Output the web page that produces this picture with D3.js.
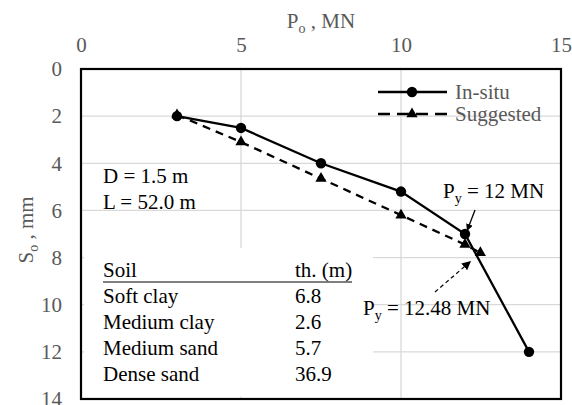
<!DOCTYPE html>
<html>
<head>
<meta charset="utf-8">
<script src="https://cdn.jsdelivr.net/npm/d3@7"></script>
<style>
  body { margin: 0; background: #fff; }
  svg text { font-family: "Liberation Serif", "Times New Roman", "DejaVu Serif", serif !important; }
</style>
</head>
<body>
<script>
// data
var xTicks = [0, 5, 10, 15];
var yTicks = [0, 2, 4, 6, 8, 10, 12, 14];
var insituP = [3, 5, 7.5, 10, 12, 14];
var insituS = [2, 2.5, 4, 5.2, 7, 12];
var suggP = [3, 5, 7.5, 10, 12, 12.48];
var suggS = [1.95, 3.1, 4.65, 6.2, 7.45, 7.8];
var soilNames = ["Soft clay", "Medium clay", "Medium sand", "Dense sand"];
var soilThick = ["6.8", "2.6", "5.7", "36.9"];

var FONT = "Liberation Serif, Times New Roman, DejaVu Serif, serif";

var margin = {top: 69, right: 11, bottom: 6, left: 81},
    width = 572 - margin.left - margin.right,
    height = 405 - margin.top - margin.bottom;

var svg = d3.select("body").append("svg")
    .attr("width", 572).attr("height", 405)
    .attr("font-family", FONT);

var defs = svg.append("defs");
defs.append("marker").attr("id", "ah")
    .attr("viewBox", "0 0 10 10").attr("refX", 10).attr("refY", 5)
    .attr("markerWidth", 7).attr("markerHeight", 7).attr("markerUnits", "userSpaceOnUse")
    .attr("orient", "auto")
  .append("path").attr("d", "M0,0L10,5L0,10z").attr("fill", "#000");
defs.append("marker").attr("id", "ah2")
    .attr("viewBox", "0 0 10 10").attr("refX", 10).attr("refY", 5)
    .attr("markerWidth", 9).attr("markerHeight", 9).attr("markerUnits", "userSpaceOnUse")
    .attr("orient", "auto")
  .append("path").attr("d", "M0,0L10,5L0,10z").attr("fill", "#000");

var g = svg.append("g")
    .attr("transform", "translate(" + margin.left + "," + margin.top + ")");

var x = d3.scaleLinear().domain([0, 15]).range([0, width]);
var y = d3.scaleLinear().domain([0, 14]).range([0, height]);

// gridlines
g.selectAll(".hg").data(yTicks.filter(function(d) { return d > 0 && d < 14; }))
  .enter().append("line")
    .attr("x1", 0).attr("x2", width)
    .attr("y1", function(d) { return y(d); }).attr("y2", function(d) { return y(d); })
    .attr("stroke", "#d9d9d9").attr("stroke-width", 1.3);
g.selectAll(".vg").data(xTicks.filter(function(d) { return d > 0 && d < 15; }))
  .enter().append("line")
    .attr("y1", 0).attr("y2", height)
    .attr("x1", function(d) { return x(d); }).attr("x2", function(d) { return x(d); })
    .attr("stroke", "#d9d9d9").attr("stroke-width", 1.3);

// axes (top and left)
var xAxis = g.append("g").call(d3.axisTop(x).tickValues(xTicks).tickSize(0).tickPadding(17));
var yAxis = g.append("g").call(d3.axisLeft(y).tickValues(yTicks).tickSize(0).tickPadding(19));
[xAxis, yAxis].forEach(function(a) {
  a.attr("font-family", FONT).attr("font-size", 21);
  a.select(".domain").remove();
  a.selectAll("text").attr("fill", "#595959");
});

// axis titles
var xt = svg.append("text").attr("x", margin.left + width / 2).attr("y", 28)
    .attr("text-anchor", "middle").attr("font-size", 21).attr("fill", "#595959");
xt.append("tspan").text("P");
xt.append("tspan").text("o").attr("font-size", 14).attr("dy", 5);
xt.append("tspan").text(" , MN").attr("dy", -5);

var yt = svg.append("text")
    .attr("transform", "translate(33," + (margin.top + height / 2 - 4) + ") rotate(-90)")
    .attr("text-anchor", "middle").attr("font-size", 21).attr("fill", "#595959");
yt.append("tspan").text("S");
yt.append("tspan").text("o").attr("font-size", 14).attr("dy", 5);
yt.append("tspan").text(" , mm").attr("dy", -5);

// soil table box (white background hides gridlines)
g.append("rect").attr("x", 3).attr("y", y(7.6)).attr("width", 289).attr("height", y(13.9) - y(7.6))
    .attr("fill", "#fff");

var tbl = g.append("g").attr("font-size", 21).attr("fill", "#000");
tbl.append("text").attr("x", 22).attr("y", 208).text("Soil");
tbl.append("text").attr("x", 214).attr("y", 208).text("th. (m)");
tbl.append("line").attr("x1", 22).attr("x2", 271).attr("y1", 213).attr("y2", 213)
    .attr("stroke", "#000").attr("stroke-width", 1.2);
tbl.selectAll(".sn").data(soilNames).enter().append("text")
    .attr("x", 22).attr("y", function(d, i) { return 234 + i * 26; }).text(function(d) { return d; });
tbl.selectAll(".st").data(soilThick).enter().append("text")
    .attr("x", 214).attr("y", function(d, i) { return 234 + i * 26; }).text(function(d) { return d; });

// D / L text
g.append("text").attr("x", 22).attr("y", 114).attr("font-size", 21).text("D = 1.5 m");
g.append("text").attr("x", 22).attr("y", 140).attr("font-size", 21).text("L = 52.0 m");

// series
var insitu = insituP.map(function(p, i) { return [p, insituS[i]]; });
var sugg = suggP.map(function(p, i) { return [p, suggS[i]]; });
var line = d3.line().x(function(d) { return x(d[0]); }).y(function(d) { return y(d[1]); });

g.append("path").datum(sugg).attr("d", line).attr("fill", "none")
    .attr("stroke", "#000").attr("stroke-width", 2.3).attr("stroke-dasharray", "8,6");
g.append("path").datum(insitu).attr("d", line).attr("fill", "none")
    .attr("stroke", "#000").attr("stroke-width", 2.3);

var tri = d3.symbol().type(d3.symbolTriangle).size(55);
g.selectAll(".tri").data(sugg).enter().append("path")
    .attr("d", tri)
    .attr("transform", function(d) { return "translate(" + x(d[0]) + "," + y(d[1]) + ")"; })
    .attr("fill", "#000");
g.selectAll(".dot").data(insitu).enter().append("circle")
    .attr("cx", function(d) { return x(d[0]); }).attr("cy", function(d) { return y(d[1]); })
    .attr("r", 5.2).attr("fill", "#000");

// frame
g.append("rect").attr("width", width).attr("height", height)
    .attr("fill", "none").attr("stroke", "#000").attr("stroke-width", 2.2);

// legend
var lg = g.append("g").attr("transform", "translate(297,23)");
lg.append("line").attr("x1", 0).attr("x2", 69).attr("y1", 0).attr("y2", 0)
    .attr("stroke", "#000").attr("stroke-width", 2.3);
lg.append("circle").attr("cx", 34).attr("cy", 0).attr("r", 5.2).attr("fill", "#000");
lg.append("text").attr("x", 77).attr("y", 7).attr("font-size", 21).attr("fill", "#595959").text("In-situ");
lg.append("line").attr("x1", 0).attr("x2", 69).attr("y1", 22).attr("y2", 22)
    .attr("stroke", "#000").attr("stroke-width", 2.3).attr("stroke-dasharray", "12,7");
lg.append("path").attr("d", tri).attr("transform", "translate(34,22)").attr("fill", "#000");
lg.append("text").attr("x", 77).attr("y", 29).attr("font-size", 21).attr("fill", "#595959").text("Suggested");

// yield annotations
var a1 = g.append("text").attr("x", 362).attr("y", 129).attr("font-size", 21);
a1.append("tspan").text("P");
a1.append("tspan").text("y").attr("font-size", 14).attr("dy", 5);
a1.append("tspan").text(" = 12 MN").attr("dy", -5);
g.append("line").attr("x1", 394).attr("y1", 141).attr("x2", 386).attr("y2", 162)
    .attr("stroke", "#000").attr("stroke-width", 1.3).attr("marker-end", "url(#ah)");

var a2 = g.append("text").attr("x", 282).attr("y", 246).attr("font-size", 21);
a2.append("tspan").text("P");
a2.append("tspan").text("y").attr("font-size", 14).attr("dy", 5);
a2.append("tspan").text(" = 12.48 MN").attr("dy", -5);
g.append("line").attr("x1", 354).attr("y1", 223).attr("x2", 390).attr("y2", 192)
    .attr("stroke", "#000").attr("stroke-width", 1.2).attr("stroke-dasharray", "4,3")
    .attr("marker-end", "url(#ah2)");
</script>
</body>
</html>
